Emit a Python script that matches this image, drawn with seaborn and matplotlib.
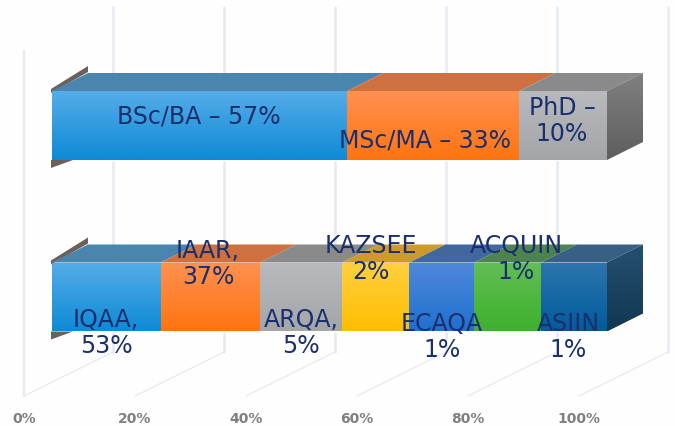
import numpy as np
import pandas as pd
import matplotlib
matplotlib.use("Agg")
import matplotlib.pyplot as plt
import seaborn as sns
from matplotlib.colors import LinearSegmentedColormap
from matplotlib.patches import Polygon
from matplotlib.transforms import ScaledTranslation

# ---- data: drawn share of each bar and the printed labels ----
degree_names = ["BSc/BA", "MSc/MA", "PhD"]
degree_drawn = [53.2, 31.0, 15.8]
degree_labels = ["BSc/BA – 57%", "MSc/MA – 33%", "PhD –\n10%"]

agency_names = ["IQAA", "IAAR", "ARQA", "KAZSEE", "ECAQA", "ACQUIN", "ASIIN"]
agency_drawn = [19.6, 17.9, 14.8, 12.1, 11.7, 12.0, 11.9]
agency_labels = ["IQAA,\n53%", "IAAR,\n37%", "ARQA,\n5%", "KAZSEE\n2%",
                 "ECAQA\n1%", "ACQUIN\n1%", "ASIIN\n1%"]

x_ticks = [0, 20, 40, 60, 80, 100]
x_tick_labels = ["0%", "20%", "40%", "60%", "80%", "100%"]

# ---- style ----
W, H, AX_BOTTOM = 675, 427, 408
PX_X0, PX_PER_PCT = 52.0, 5.55
PX_Y0, PX_PER_CAT = 126.5, 171.5
TEXT = "#1B2F6E"

FRONT = {"BSc/BA": ("#55ADE8", "#0E8AD6"), "MSc/MA": ("#FF9150", "#FF7410"),
         "PhD": ("#B9BABD", "#A4A5A8"),
         "IQAA": ("#55ADE8", "#0E8AD6"), "IAAR": ("#FF9150", "#FF7410"),
         "ARQA": ("#B9BABD", "#A4A5A8"), "KAZSEE": ("#FFD040", "#FFBE00"),
         "ECAQA": ("#5088DB", "#1F70CF"), "ACQUIN": ("#62BE55", "#3FB02E"),
         "ASIIN": ("#2D75AD", "#005C9C")}
TOP = {"BSc/BA": "#4A85AE", "MSc/MA": "#CE7040", "PhD": "#8A8A8A",
       "IQAA": "#4A85AE", "IAAR": "#CE7040", "ARQA": "#8A8A8A",
       "KAZSEE": "#CE9A2C", "ECAQA": "#40689F", "ACQUIN": "#4C8350",
       "ASIIN": "#3A5F85"}
SIDE = {"Degree": ("#808080", "#5E5E5E"), "Agency": ("#24506F", "#123753")}


def dx(px):
    return (px - PX_X0) / PX_PER_PCT


def dy(px):
    return (px - PX_Y0) / PX_PER_CAT


sns.set_theme(style="white")
plt.rcParams["font.family"] = ["DejaVu Sans"]

fig = plt.figure(figsize=(W / 100, H / 100), dpi=100, facecolor="#FEFEFE")
ax = fig.add_axes([0, 1 - AX_BOTTOM / H, 1, AX_BOTTOM / H])
ax.set_facecolor("none")

rows = pd.DataFrame(
    [("Degree", n, v, l) for n, v, l in zip(degree_names, degree_drawn, degree_labels)]
    + [("Agency", n, v, l) for n, v, l in zip(agency_names, agency_drawn, agency_labels)],
    columns=["group", "segment", "share", "label"],
)
rows["end"] = rows.groupby("group")["share"].cumsum()
rows["start"] = rows["end"] - rows["share"]
groups = ["Degree", "Agency"]

# stacked bars: longest cumulative first so shorter ones overlay them
geom = {}
for _, r in rows.iloc[::-1].iterrows():
    before = len(ax.patches)
    sns.barplot(data=r.to_frame().T.astype({"end": float}), x="end", y="group",
                order=groups, orient="h", color=FRONT[r.segment][1], saturation=1,
                width=69 / PX_PER_CAT, ax=ax, zorder=3)
    new = [p for p in ax.patches[before:] if p.get_width() > 0]
    geom[r.segment] = new[0]

ax.set_xlim(dx(0), dx(W))
ax.set_ylim(dy(AX_BOTTOM), dy(0))
ax.set_xlabel("")
ax.set_ylabel("")
ax.set_yticks([])
ax.set_xticks(x_ticks)
ax.set_xticklabels(x_tick_labels)
ax.tick_params(axis="x", length=0, pad=3)
sns.despine(ax=ax, left=True, bottom=True)
shift = ScaledTranslation(-28 / 100, 0, fig.dpi_scale_trans)
for t in ax.get_xticklabels():
    t.set_transform(t.get_transform() + shift)
    t.set_color("#808080")
    t.set_fontsize(10)
    t.set_fontweight("bold")

# 3D depth of the chart box, in data units
DEPTH_X = 36 / PX_PER_PCT
DEPTH_Y = 18 / PX_PER_CAT
GRID = "#E6EAF1"

# walls and floor
back_dx, front_dx = 61 / PX_PER_PCT, -28 / PX_PER_PCT
floor_front, floor_back, wall_top = dy(397), dy(353), dy(8)
ax.plot([x_ticks[0] + front_dx] * 2, [dy(52), floor_front], color=GRID, lw=1.6, zorder=1)
for v in x_ticks:
    ax.plot([v + back_dx] * 2, [wall_top, floor_back], color=GRID, lw=1.8, zorder=1)
    ax.plot([v + front_dx, v + back_dx], [floor_front, floor_back],
            color=GRID, lw=0.9, zorder=1)


def gradient(xs, ys, cols, z):
    poly = Polygon(list(zip(xs, ys)), closed=True, transform=ax.transData,
                   facecolor="none", edgecolor="none")
    ax.add_patch(poly)
    cmap = LinearSegmentedColormap.from_list("g", cols)
    im = ax.imshow(np.linspace(0, 1, 64).reshape(-1, 1), cmap=cmap, origin="upper",
                   extent=(min(xs), max(xs), max(ys), min(ys)), aspect="auto",
                   zorder=z, interpolation="bilinear")
    im.set_clip_path(poly)


for _, r in rows.iterrows():
    p = geom[r.segment]
    y0, y1 = sorted((p.get_y(), p.get_y() + p.get_height()))
    x0, x1 = r.start, r.end
    # front face
    gradient([x0, x1, x1, x0], [y0, y0, y1, y1], FRONT[r.segment], 4)
    # top face
    ax.fill([x0, x1, x1 + DEPTH_X, x0 + DEPTH_X],
            [y0, y0, y0 - DEPTH_Y, y0 - DEPTH_Y], color=TOP[r.segment], lw=0, zorder=3.5)
    if x0 == 0:
        # dark edge on the left of the bar
        ax.fill([x0 - 1 / PX_PER_PCT, x0 + 36 / PX_PER_PCT, x0 + 36 / PX_PER_PCT, x0 - 1 / PX_PER_PCT],
                [y0 - 2 / PX_PER_CAT, y0 - 25 / PX_PER_CAT, y0 - 19 / PX_PER_CAT, y0 + 2 / PX_PER_CAT],
                color="#6B605C", lw=0, zorder=3.2)
        ax.fill([x0 - 1 / PX_PER_PCT, x0 + 21 / PX_PER_PCT, x0 - 1 / PX_PER_PCT],
                [y1, y1, y1 + 8 / PX_PER_CAT], color="#6B605C", lw=0, zorder=3.2)
    if x1 >= 99.9:
        # right-hand side face
        gradient([x1, x1 + DEPTH_X, x1 + DEPTH_X, x1],
                 [y0, y0 - DEPTH_Y, y1 - DEPTH_Y, y1], SIDE[r.group], 3.5)

ax.set_xlim(dx(0), dx(W))
ax.set_ylim(dy(AX_BOTTOM), dy(0))

# data labels: centre x px, centre y px
label_pos = {
    "BSc/BA": (199, 116), "MSc/MA": (425, 140), "PhD": (562, 121),
    "IQAA": (106, 333), "IAAR": (208, 264), "ARQA": (301, 333), "KAZSEE": (371, 259),
    "ECAQA": (442, 337), "ACQUIN": (516, 259), "ASIIN": (568, 337),
}
for _, r in rows.iterrows():
    cx, cy = label_pos[r.segment]
    ax.text(dx(cx), dy(cy), r.label, ha="center", va="center", color=TEXT,
            fontsize=17, linespacing=1.15, zorder=6)

fig.savefig("out.png", dpi=100, facecolor=fig.get_facecolor())
